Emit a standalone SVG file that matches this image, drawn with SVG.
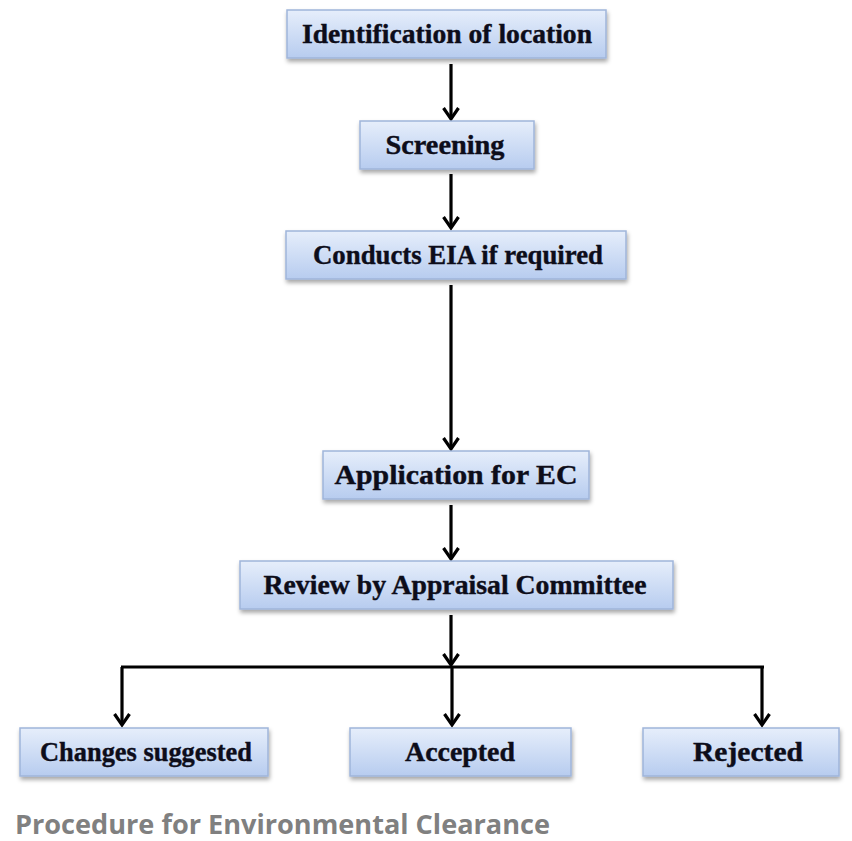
<svg xmlns="http://www.w3.org/2000/svg" width="852" height="841" viewBox="0 0 852 841">
<defs>
<linearGradient id="boxg" x1="0" y1="0" x2="0" y2="1">
<stop offset="0" stop-color="#e6eefb"/>
<stop offset="1" stop-color="#b7ccef"/>
</linearGradient>
<filter id="sh" x="-10%" y="-20%" width="120%" height="160%">
<feDropShadow dx="1" dy="3" stdDeviation="2" flood-color="#000" flood-opacity="0.35"/>
</filter>
<marker id="arr" markerUnits="userSpaceOnUse" markerWidth="20" markerHeight="20" refX="0" refY="0" orient="auto" overflow="visible">
<path d="M-11,-7.5 L0,0 L-11,7.5" fill="none" stroke="#000" stroke-width="3.2" stroke-linejoin="miter"/>
</marker>
<style>
.box{fill:url(#boxg);stroke:#9fb5da;stroke-width:1.5;filter:url(#sh)}
.lbl{font-family:"Liberation Serif","Times New Roman",serif;font-weight:bold;font-size:27px;fill:#0d0d1a;text-anchor:middle;stroke:#0d0d1a;stroke-width:0.4}
.con{stroke:#000;stroke-width:3.2;fill:none}
.cap{font-family:"Open Sans","Noto Sans",sans-serif;font-weight:700;font-size:26px;fill:#808080}
</style>
</defs>
<rect width="852" height="841" fill="#fff"/>
<g id="connectors">
<line class="con" x1="451" y1="64" x2="451" y2="119" marker-end="url(#arr)"/>
<line class="con" x1="451" y1="174" x2="451" y2="228" marker-end="url(#arr)"/>
<line class="con" x1="451" y1="285" x2="451" y2="449" marker-end="url(#arr)"/>
<line class="con" x1="451" y1="505" x2="451" y2="559" marker-end="url(#arr)"/>
<line class="con" x1="451" y1="615" x2="451" y2="665" marker-end="url(#arr)"/>
<line class="con" x1="121" y1="667" x2="764" y2="667"/>
<line class="con" x1="122" y1="667" x2="122" y2="725" marker-end="url(#arr)"/>
<line class="con" x1="452" y1="667" x2="452" y2="725" marker-end="url(#arr)"/>
<line class="con" x1="762" y1="667" x2="762" y2="725" marker-end="url(#arr)"/>
</g>
<g id="n1"><rect class="box" x="287" y="10" width="319" height="48"/><text class="lbl" x="447" y="43" textLength="290" lengthAdjust="spacingAndGlyphs">Identification of location</text></g>
<g id="n2"><rect class="box" x="360" y="121" width="174" height="48"/><text class="lbl" x="445" y="154" textLength="119" lengthAdjust="spacingAndGlyphs">Screening</text></g>
<g id="n3"><rect class="box" x="286" y="231" width="340" height="48"/><text class="lbl" x="458" y="264" textLength="290" lengthAdjust="spacingAndGlyphs">Conducts EIA if required</text></g>
<g id="n4"><rect class="box" x="323" y="451" width="266" height="48"/><text class="lbl" x="456" y="484" textLength="243" lengthAdjust="spacingAndGlyphs">Application for EC</text></g>
<g id="n5"><rect class="box" x="240" y="561" width="433" height="48"/><text class="lbl" x="455" y="594" textLength="383" lengthAdjust="spacingAndGlyphs">Review by Appraisal Committee</text></g>
<g id="n6"><rect class="box" x="20" y="728" width="248" height="48"/><text class="lbl" x="146" y="761" textLength="212" lengthAdjust="spacingAndGlyphs">Changes suggested</text></g>
<g id="n7"><rect class="box" x="350" y="728" width="221" height="48"/><text class="lbl" x="460" y="761" textLength="110" lengthAdjust="spacingAndGlyphs">Accepted</text></g>
<g id="n8"><rect class="box" x="643" y="728" width="196" height="48"/><text class="lbl" x="748" y="761" textLength="110" lengthAdjust="spacingAndGlyphs">Rejected</text></g>
<text class="cap" x="15" y="834" textLength="535" lengthAdjust="spacingAndGlyphs">Procedure for Environmental Clearance</text>
</svg>
